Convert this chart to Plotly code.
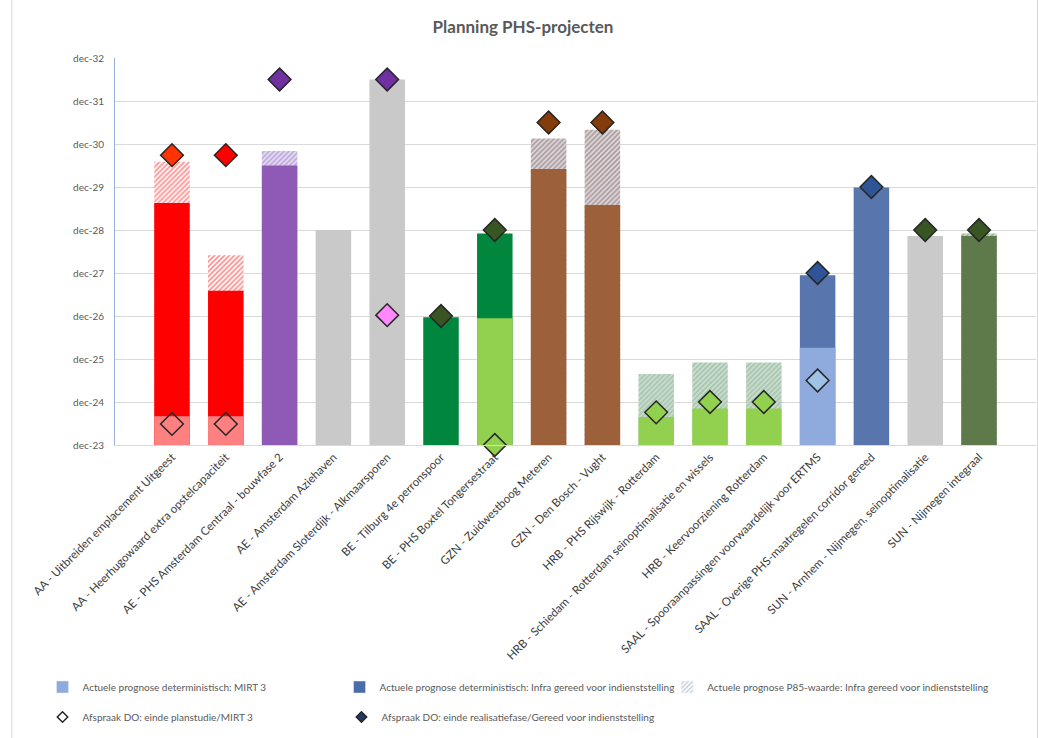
import plotly.graph_objects as go

categories = [
    "AA - Uitbreiden emplacement Uitgeest",
    "AA - Heerhugowaard extra opstelcapaciteit",
    "AE - PHS Amsterdam Centraal - bouwfase 2",
    "AE - Amsterdam Aziehaven",
    "AE - Amsterdam Sloterdijk - Alkmaarsporen",
    "BE - Tilburg 4e perronspoor",
    "BE - PHS Boxtel Tongersestraat",
    "GZN - Zuidwestboog Meteren",
    "GZN - Den Bosch - Vught",
    "HRB - PHS Rijswijk - Rotterdam",
    "HRB - Schiedam - Rotterdam seinoptimalisatie en wissels",
    "HRB - Keervoorziening Rotterdam",
    "SAAL - Spooraanpassingen voorwaardelijk voor ERTMS",
    "SAAL - Overige PHS-maatregelen corridor gereed",
    "SUN - Arnhem - Nijmegen, seinoptimalisatie",
    "SUN - Nijmegen integraal",
]

# values in years (23 = dec-23, 24 = dec-24, ...)
mirt3 = [23.67, 23.67, None, None, None, None, 25.95, None, None, 23.65, 23.85, 23.85, 25.26, None, None, None]
infra = [28.63, 26.59, 29.50, 28.00, 31.50, 25.97, 27.92, 29.42, 28.58, None, None, None, 26.95, 28.99, 27.86, 27.86]
p85 = [29.59, 27.41, 29.84, None, None, None, None, 30.13, 30.33, 24.65, 24.92, 24.92, None, None, None, 27.92]
planstudie = [23.49, 23.49, None, None, 26.02, None, 23.00, None, None, 23.76, 24.00, 24.00, 24.50, None, None, None]
realisatie = [29.74, 29.74, 31.50, None, 31.50, 26.00, 28.00, 30.50, 30.50, None, None, None, 27.00, 29.00, 28.00, 28.00]

tick_vals = [23, 24, 25, 26, 27, 28, 29, 30, 31, 32]
tick_text = ["dec-23", "dec-24", "dec-25", "dec-26", "dec-27", "dec-28", "dec-29", "dec-30", "dec-31", "dec-32"]

legend_names = [
    "Actuele prognose deterministisch: MIRT 3",
    "Actuele prognose deterministisch: Infra gereed voor indienststelling",
    "Actuele prognose P85-waarde: Infra gereed voor indienststelling",
    "Afspraak DO: einde planstudie/MIRT 3",
    "Afspraak DO: einde realisatiefase/Gereed voor indienststelling",
]

# styles
mirt3_colors = ["#FF8080", "#FF8080", None, None, None, None, "#92D050", None, None,
                "#92D050", "#92D050", "#92D050", "#8FAADC", None, None, None]
infra_colors = ["#FF0000", "#FF0000", "#8E5AB5", "#C9C9C9", "#C9C9C9", "#00873D", "#00873D",
                "#9C613A", "#9C613A", None, None, None, "#5875AD", "#5875AD", "#CACACA", "#5F7A4A"]
p85_fg = ["#FF2020", "#FF2020", "#9670C8", None, None, None, None, "#8A5A40", "#8A5A40",
          "#7FB050", "#7FB050", "#7FB050", None, None, None, "#5F7A4A"]
p85_bg = ["#FFFFFF", "#FFFFFF", "#E6DEF3", None, None, None, None, "#D8DAE6", "#D8DAE6",
          "#CCDCE4", "#CCDCE4", "#CCDCE4", None, None, None, "#D4DED0"]
plan_colors = ["rgba(0,0,0,0)", "rgba(0,0,0,0)", None, None, "#FF88FF", None, "#92D050", None, None,
               "#92D050", "#92D050", "#92D050", "#9DC3E6", None, None, None]
real_colors = ["#FF3300", "#FF0000", "#7030A0", None, "#7030A0", "#375623", "#375623", "#843C0C",
               "#843C0C", None, None, None, "#2F5597", "#2F5597", "#375623", "#375623"]


def fix(c):
    return [x if x is not None else "#FFFFFF" for x in c]


fig = go.Figure()
bar_w = 0.66

# P85 hatched bars (one trace per bar so each gets its own hatch colour)
for i, cat in enumerate(categories):
    if p85[i] is None:
        continue
    fig.add_trace(go.Bar(
        x=[cat], y=[p85[i]], width=bar_w, showlegend=False,
        marker=dict(color=p85_bg[i], line=dict(width=0),
                    pattern=dict(shape="/", fgcolor=p85_fg[i], bgcolor=p85_bg[i],
                                 size=3.5, solidity=0.5)),
        hoverinfo="skip"))

fig.add_trace(go.Bar(
    x=categories, y=infra, width=bar_w, showlegend=False,
    marker=dict(color=fix(infra_colors), line=dict(width=0)), hoverinfo="skip"))
fig.add_trace(go.Bar(
    x=categories, y=mirt3, width=bar_w, showlegend=False,
    marker=dict(color=fix(mirt3_colors), line=dict(width=0)), hoverinfo="skip"))
fig.add_trace(go.Scatter(
    x=categories, y=planstudie, mode="markers", showlegend=False, cliponaxis=False,
    marker=dict(symbol="diamond", size=17.5, color=fix(plan_colors),
                line=dict(color="#262626", width=1.5)), hoverinfo="skip"))
fig.add_trace(go.Scatter(
    x=categories, y=realisatie, mode="markers", showlegend=False, cliponaxis=False,
    marker=dict(symbol="diamond", size=17.5, color=fix(real_colors),
                line=dict(color="#262626", width=1.5)), hoverinfo="skip"))

# legend entries (each in its own legend for exact placement)
fig.add_trace(go.Bar(x=[categories[0]], y=[None], name=legend_names[0],
                     marker=dict(color="#8FAADC"), legend="legend"))
fig.add_trace(go.Bar(x=[categories[0]], y=[None], name=legend_names[1],
                     marker=dict(color="#4A6CAA"), legend="legend2"))
fig.add_trace(go.Bar(x=[categories[0]], y=[None], name=legend_names[2],
                     marker=dict(color="#FFFFFF", pattern=dict(shape="/", fgcolor="#7F8FA8", bgcolor="#FFFFFF",
                                                                size=4, solidity=0.4)), legend="legend3"))
fig.add_trace(go.Scatter(x=[categories[0]], y=[None], mode="markers", name=legend_names[3],
                         marker=dict(symbol="diamond", size=8, color="#FFFFFF", line=dict(color="#262626", width=1.5)),
                         legend="legend4"))
fig.add_trace(go.Scatter(x=[categories[0]], y=[None], mode="markers", name=legend_names[4],
                         marker=dict(symbol="diamond", size=8, color="#1F3864", line=dict(color="#262626", width=1.5)),
                         legend="legend5"))

legend_font = dict(family="Lato, sans-serif", size=10, color="#595959")


def leg(x, y):
    return dict(orientation="h", x=x, xanchor="left", y=y, yanchor="middle",
                font=legend_font, bgcolor="rgba(0,0,0,0)", itemclick=False)


row1 = (445 - 687) / 387
row2 = (445 - 717) / 387

fig.update_layout(
    width=1038, height=738,
    margin=dict(l=115, r=2, t=58, b=293),
    paper_bgcolor="white", plot_bgcolor="white",
    barmode="overlay",
    font=dict(family="Lato, sans-serif", color="#595959"),
    title=dict(text="<b>Planning PHS-projecten</b>", x=523 / 1038, xanchor="center", y=1 - 27 / 738,
               yanchor="middle", font=dict(size=17, color="#595959", family="Lato, sans-serif")),
    xaxis=dict(categoryorder="array", categoryarray=categories,
               tickangle=-45, tickfont=dict(size=11.5, color="#3A3A3A", family="Lato, sans-serif"),
               showline=True, linecolor="#D9D9D9", linewidth=1, showgrid=False, ticks=""),
    yaxis=dict(range=[23, 32], tickvals=tick_vals, ticktext=tick_text,
               tickfont=dict(size=10, color="#595959", family="Lato, sans-serif"),
               showgrid=True, gridcolor="#D9D9D9", gridwidth=1, zeroline=False,
               showline=True, linecolor="#9DB0D8", linewidth=1, ticks="", ticklabelstandoff=8),
    legend=leg(-0.0787, row1),
    legend2=leg(0.2438, row1),
    legend3=leg(0.5995, row1),
    legend4=leg(-0.0787, row2),
    legend5=leg(0.2459, row2),
    showlegend=True,
)

fig.add_shape(type="line", xref="paper", yref="paper", x0=-0.112, x1=-0.112, y0=-0.76, y1=1.15,
              line=dict(color="#D9D9D9", width=1))
fig.add_shape(type="line", xref="paper", yref="paper", x0=1.0015, x1=1.0015, y0=-0.76, y1=1.15,
              line=dict(color="#D9D9D9", width=1))

fig.write_html("out.html")
